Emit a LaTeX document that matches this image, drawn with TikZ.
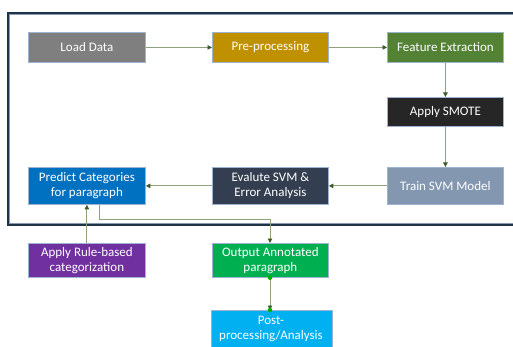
\documentclass[tikz,border=0pt]{standalone}
\usepackage{fontspec}
\setmainfont{Carlito}
\usetikzlibrary{arrows.meta}
\definecolor{cgray}{HTML}{7F7F7F}
\definecolor{cgold}{HTML}{BF9000}
\definecolor{cgreen}{HTML}{548235}
\definecolor{cblack}{HTML}{262626}
\definecolor{cslate}{HTML}{8497B0}
\definecolor{cnavy}{HTML}{333F50}
\definecolor{cblue}{HTML}{0070C0}
\definecolor{cpurple}{HTML}{7030A0}
\definecolor{clgreen}{HTML}{00B050}
\definecolor{ccyan}{HTML}{00B0F0}
\definecolor{cborder}{HTML}{9DB3CF}
\definecolor{cframe}{HTML}{1F3349}
\definecolor{cframein}{HTML}{8A9BB0}
\definecolor{cline}{HTML}{8FA07F}
\definecolor{ctip}{HTML}{3E5C2A}
\tikzset{
  box/.style={draw=cborder, line width=0.8pt, text=white, font=\fontsize{13}{15}\selectfont,
    align=center, inner sep=0pt, anchor=north west},
  conn/.style={draw=cline, line width=0.9pt, -{Triangle[length=4.5pt,width=4.5pt,fill=ctip,color=ctip]}},
}
\newcommand{\bx}[7]{% name, x1, y1, x2, y2, color, text
  \node[box, fill=#6, minimum width={(#4-#2)*1pt}, minimum height={(#5-#3)*1pt}] (#1) at (#2pt,-#3pt) {#7};}
\begin{document}
\begin{tikzpicture}
\useasboundingbox (0,0) rectangle (513pt,-347pt);
\fill[white] (0,0) rectangle (513pt,-347pt);
% frame
\draw[cframein, line width=0.8pt] (520pt,-14.6pt) -- (9.6pt,-14.6pt) -- (9.6pt,-223.4pt) -- (520pt,-223.4pt);
\draw[cframe, line width=2pt] (520pt,-13pt) -- (8pt,-13pt) -- (8pt,-225pt) -- (520pt,-225pt);
% boxes
\bx{load}{28}{32}{145}{62}{cgray}{Load Data}
\bx{pre}{212}{32}{328}{62}{cgold}{Pre-processing}
\bx{feat}{387}{32}{503}{62}{cgreen}{Feature Extraction}
\bx{smote}{387}{97}{503}{126}{cblack}{Apply SMOTE}
\bx{train}{387}{167}{503}{204}{cslate}{Train SVM Model}
\bx{eval}{212}{167}{328}{204}{cnavy}{Evalute SVM \&\\Error Analysis}
\bx{pred}{28}{167}{145}{204}{cblue}{Predict Categories\\for paragraph}
\bx{rule}{28}{243}{145}{277}{cpurple}{Apply Rule-based\\categorization}
\bx{out}{212}{243}{328}{277}{clgreen}{Output Annotated\\paragraph}
\node[box, fill=ccyan, minimum width=121pt, minimum height=40pt, anchor=north west] (post) at (211pt,-310pt) {};
\node[text=white, font=\fontsize{13}{15}\selectfont, align=center, anchor=north] (posttxt) at (271pt,-313pt) {Post-\\processing/Analysis};
% connectors
\draw[conn] (load.east) -- (pre.west);
\draw[conn] (pre.east) -- (feat.west);
\draw[conn] (feat.south) -- (smote.north);
\draw[conn] (smote.south) -- (train.north);
\draw[conn] (train.west) -- (eval.east);
\draw[conn] (eval.west) -- (pred.east);
\draw[conn] (rule.north) -- (pred.south);
\coordinate (c1) at (99pt,-219pt);
\coordinate (c2) at (270pt,-219pt);
\draw[conn] (pred.south -| c1) -- (c1) -- (c2) -- (out.north -| c2);
\draw[conn] (out.south -| c2) -- (post.north -| c2);
\fill[green!70!black] (out.south -| c2) circle (2.2pt);
\fill[green!70!black] (post.north -| c2) circle (2.2pt);
\end{tikzpicture}
\end{document}
